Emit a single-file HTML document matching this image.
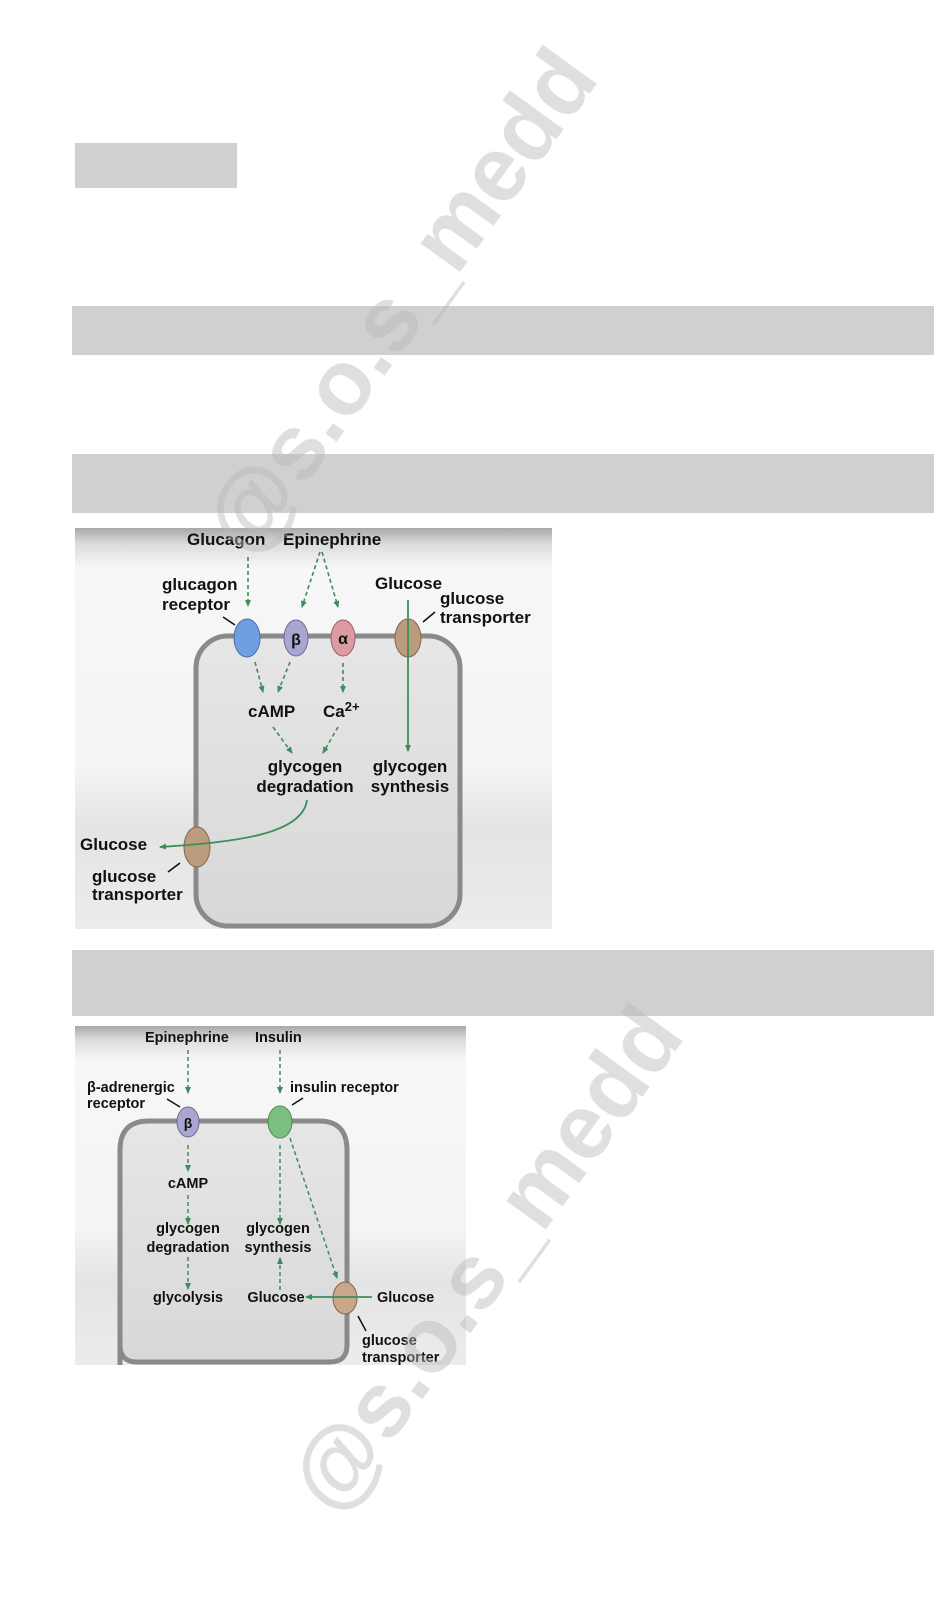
<!DOCTYPE html>
<html><head><meta charset="utf-8"><style>
html,body{margin:0;padding:0;background:#fff;}
body{width:936px;height:1605px;position:relative;overflow:hidden;}
svg{position:absolute;left:0;top:0;}
text{font-family:"Liberation Sans",sans-serif;font-weight:bold;fill:#111;}
</style></head><body>
<svg width="936" height="1605" viewBox="0 0 936 1605">
<defs>
<linearGradient id="bg1" x1="0" y1="0" x2="0" y2="1">
<stop offset="0" stop-color="#a9a9a9"/><stop offset="0.04" stop-color="#dcdcdc"/><stop offset="0.1" stop-color="#f7f7f7"/><stop offset="0.6" stop-color="#f4f4f4"/><stop offset="0.75" stop-color="#e4e4e4"/><stop offset="1" stop-color="#ececec"/></linearGradient>
<linearGradient id="cell" x1="0" y1="0" x2="0" y2="1">
<stop offset="0" stop-color="#e6e6e6"/><stop offset="1" stop-color="#d8d8d8"/></linearGradient>
<marker id="ah" markerWidth="8" markerHeight="8" refX="6" refY="4" orient="auto" markerUnits="userSpaceOnUse"><path d="M0,1 L7,4 L0,7 z" fill="#3d8c5c"/></marker>
</defs>

<rect x="75" y="143" width="162" height="45" fill="#d0d0d0"/>
<rect x="72" y="306" width="862" height="49" fill="#d0d0d0"/>
<rect x="72" y="454" width="862" height="59" fill="#d0d0d0"/>
<rect x="72" y="950" width="862" height="66" fill="#d0d0d0"/>

<!-- DIAGRAM 1 -->
<rect x="75" y="528" width="477" height="401" fill="url(#bg1)"/>
<rect x="196" y="636" width="264" height="290" rx="32" fill="url(#cell)" stroke="#8a8a8a" stroke-width="5"/>
<g stroke="#3d8c5c" stroke-width="1.6" stroke-dasharray="4,3" fill="none" marker-end="url(#ah)">
<line x1="248" y1="557" x2="248" y2="606"/>
<line x1="320" y1="552" x2="302" y2="607"/>
<line x1="322" y1="552" x2="338" y2="607"/>
<line x1="255" y1="662" x2="263" y2="692"/>
<line x1="290" y1="662" x2="278" y2="692"/>
<line x1="343" y1="663" x2="343" y2="692"/>
<line x1="273" y1="727" x2="292" y2="753"/>
<line x1="338" y1="727" x2="323" y2="753"/>
</g>
<ellipse cx="247" cy="638" rx="13" ry="19" fill="#6e9fe0" stroke="#4d6f9e" stroke-width="1"/>
<ellipse cx="296" cy="638" rx="12" ry="18" fill="#aaa6d2" stroke="#6e6a94" stroke-width="1"/>
<ellipse cx="343" cy="638" rx="12" ry="18" fill="#dc9aa2" stroke="#946068" stroke-width="1"/>
<ellipse cx="408" cy="638" rx="13" ry="19" fill="#bb9d7e" stroke="#7d6650" stroke-width="1"/>
<ellipse cx="197" cy="847" rx="13" ry="20" fill="#bb9d7e" stroke="#7d6650" stroke-width="1"/>
<text x="296" y="645" font-size="16" text-anchor="middle" font-weight="normal">β</text>
<text x="343" y="644" font-size="16" text-anchor="middle" font-weight="normal">α</text>
<g stroke="#3d8c5c" stroke-width="1.8" fill="none" marker-end="url(#ah)">
<line x1="408" y1="600" x2="408" y2="751"/>
<path d="M307 800 C 302 835, 235 842, 160 847"/>
</g>
<g stroke="#111" stroke-width="1.6">
<line x1="223" y1="617" x2="235" y2="625"/>
<line x1="423" y1="622" x2="435" y2="612"/>
<line x1="168" y1="872" x2="180" y2="863"/>
</g>
<g font-size="17">
<text x="187" y="545">Glucagon</text>
<text x="283" y="545">Epinephrine</text>
<text x="162" y="590">glucagon</text>
<text x="162" y="610">receptor</text>
<text x="375" y="589">Glucose</text>
<text x="440" y="604">glucose</text>
<text x="440" y="623">transporter</text>
<text x="248" y="717">cAMP</text>
<text x="323" y="717">Ca<tspan font-size="13" dy="-6">2+</tspan></text>
<text x="305" y="772" text-anchor="middle">glycogen</text>
<text x="305" y="792" text-anchor="middle">degradation</text>
<text x="410" y="772" text-anchor="middle">glycogen</text>
<text x="410" y="792" text-anchor="middle">synthesis</text>
<text x="80" y="850">Glucose</text>
<text x="92" y="882">glucose</text>
<text x="92" y="900">transporter</text>
</g>

<!-- DIAGRAM 2 -->
<rect x="75" y="1026" width="391" height="339" fill="url(#bg1)"/>
<path d="M120 1365 V1150 Q120 1121 149 1121 H319 Q347 1121 347 1150 V1345 Q347 1362 330 1362 H137 Q120 1362 120 1345" fill="url(#cell)" stroke="#8a8a8a" stroke-width="5"/>
<g stroke="#3d8c5c" stroke-width="1.5" stroke-dasharray="4,3" fill="none" marker-end="url(#ah)">
<line x1="188" y1="1050" x2="188" y2="1093"/>
<line x1="280" y1="1050" x2="280" y2="1093"/>
<line x1="188" y1="1145" x2="188" y2="1171"/>
<line x1="188" y1="1195" x2="188" y2="1224"/>
<line x1="188" y1="1257" x2="188" y2="1289"/>
<line x1="280" y1="1145" x2="280" y2="1224"/>
<line x1="280" y1="1290" x2="280" y2="1258"/>
<line x1="290" y1="1138" x2="337" y2="1278"/>
</g>
<ellipse cx="188" cy="1122" rx="11" ry="15" fill="#aaa6d2" stroke="#6e6a94" stroke-width="1"/>
<ellipse cx="280" cy="1122" rx="12" ry="16" fill="#7cc07f" stroke="#4f8a52" stroke-width="1"/>
<ellipse cx="345" cy="1298" rx="12" ry="16" fill="#c9a889" stroke="#7d6650" stroke-width="1"/>
<text x="188" y="1128" font-size="14" text-anchor="middle" font-weight="normal">β</text>
<line x1="372" y1="1297" x2="306" y2="1297" stroke="#3d8c5c" stroke-width="1.8" marker-end="url(#ah)"/>
<g stroke="#111" stroke-width="1.5">
<line x1="167" y1="1099" x2="180" y2="1107"/>
<line x1="292" y1="1105" x2="303" y2="1098"/>
<line x1="358" y1="1316" x2="366" y2="1331"/>
</g>
<g font-size="14.5">
<text x="145" y="1042">Epinephrine</text>
<text x="255" y="1042">Insulin</text>
<text x="87" y="1092">β-adrenergic</text>
<text x="87" y="1108">receptor</text>
<text x="290" y="1092">insulin receptor</text>
<text x="188" y="1188" text-anchor="middle">cAMP</text>
<text x="188" y="1233" text-anchor="middle">glycogen</text>
<text x="188" y="1252" text-anchor="middle">degradation</text>
<text x="278" y="1233" text-anchor="middle">glycogen</text>
<text x="278" y="1252" text-anchor="middle">synthesis</text>
<text x="188" y="1302" text-anchor="middle">glycolysis</text>
<text x="276" y="1302" text-anchor="middle">Glucose</text>
<text x="377" y="1302">Glucose</text>
<text x="362" y="1345">glucose</text>
<text x="362" y="1362">transporter</text>
</g>

<g opacity="0.45">
<text x="405" y="330" font-size="92" font-weight="normal" text-anchor="middle" style="fill:#b8b8b8" transform="rotate(-54 405 305)">@s.o.s_medd</text>
<text x="490" y="1288" font-size="92" font-weight="normal" text-anchor="middle" style="fill:#b8b8b8" transform="rotate(-54 490 1262)">@s.o.s_medd</text>
</g>
</svg>
</body></html>
